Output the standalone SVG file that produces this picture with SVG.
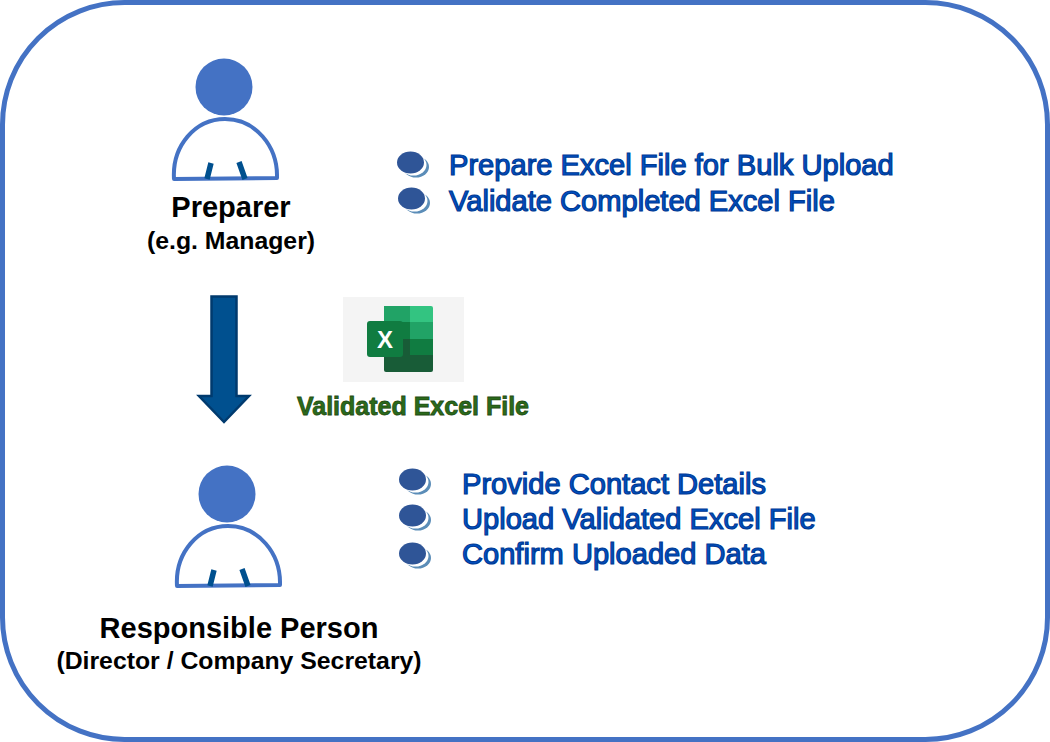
<svg xmlns="http://www.w3.org/2000/svg" width="1050" height="742" viewBox="0 0 1050 742">
<defs>
<style>
text{font-family:"Liberation Sans",Arial,sans-serif}
.head{fill:#4472c4}
.body{fill:#fff;stroke:#4472c4;stroke-width:4;stroke-linejoin:round}
.tie{stroke:#00508f;stroke-width:5.5;fill:none}
.name{font-size:29px;font-weight:bold;fill:#000;text-anchor:middle}
.sub{font-size:24.800px;font-weight:bold;fill:#000;text-anchor:middle}
.task{font-size:29.100px;fill:#0050c4;stroke:#003a94;stroke-width:1.200}
.b1{fill:#5b8db8}.b2{fill:#fff}.b3{fill:#2f5597}
</style>
<g id="person">
<circle class="head" cx="224" cy="87" r="28.500"/>
<path class="body" d="M174 179 C172 146 195 119 225 119 C255 119 278 146 277 178 Z"/>
<path class="tie" d="M211 163 L207 179 M239 162 L245 179"/>
</g>
<g id="bullet">
<ellipse class="b1" cx="19" cy="13" rx="13" ry="10.500"/>
<ellipse class="b2" cx="16.500" cy="11" rx="13" ry="10.500"/>
<ellipse class="b3" cx="13.500" cy="8.500" rx="13.500" ry="11"/>
</g>
</defs>
<rect width="1050" height="742" fill="#fff"/>
<rect id="frame" x="2.500" y="2.500" width="1045" height="737" rx="122" ry="122" fill="#fff" stroke="#4472c4" stroke-width="5"/>
<g id="preparer">
<use href="#person"/>
<text class="name" x="231" y="217">Preparer</text>
<text class="sub" x="231" y="249">(e.g. Manager)</text>
</g>
<g id="preparer-tasks">
<use href="#bullet" x="397" y="154"/>
<use href="#bullet" x="398" y="190"/>
<text class="task" x="449" y="175">Prepare Excel File for Bulk Upload</text>
<text class="task" x="449" y="211">Validate Completed Excel File</text>
</g>
<g id="connectors">
<path d="M211.500 296.500 H236.500 V396 H249 L224 422 L199 396 H211.500 Z" fill="#00508f" stroke="#003a6e" stroke-width="2.500"/>
</g>
<g id="excel-file">
<rect x="343" y="297" width="121" height="85" fill="#f4f4f4"/>
<path d="M384 306 H410 V322 H384 Z" fill="#21a366"/>
<path d="M410 306 H431 Q433 306 433 308 V322 H410 Z" fill="#33c481"/>
<rect x="384" y="322" width="26" height="17" fill="#107c41"/>
<rect x="410" y="322" width="23" height="17" fill="#21a366"/>
<rect x="384" y="339" width="26" height="16.500" fill="#185c37"/>
<rect x="410" y="339" width="23" height="16.500" fill="#107c41"/>
<path d="M384 355 H433 V370 Q433 372 431 372 H386 Q384 372 384 370 Z" fill="#185c37"/>
<rect x="367" y="321" width="36" height="36" rx="3" fill="#107c41"/>
<text x="385" y="348" font-size="24" font-weight="bold" fill="#fff" text-anchor="middle">X</text>
<text x="413" y="415" font-size="25" font-weight="bold" fill="#2b6a1b" stroke="#1f4d12" stroke-width=".8" text-anchor="middle">Validated Excel File</text>
</g>
<g id="responsible">
<use href="#person" x="3" y="407"/>
<text class="name" x="239" y="638">Responsible Person</text>
<text class="sub" x="239" y="669">(Director / Company Secretary)</text>
</g>
<g id="responsible-tasks">
<use href="#bullet" x="399" y="471"/>
<use href="#bullet" x="399" y="507"/>
<use href="#bullet" x="399" y="545"/>
<text class="task" x="462" y="494">Provide Contact Details</text>
<text class="task" x="462" y="529">Upload Validated Excel File</text>
<text class="task" x="462" y="564">Confirm Uploaded Data</text>
</g>
</svg>
